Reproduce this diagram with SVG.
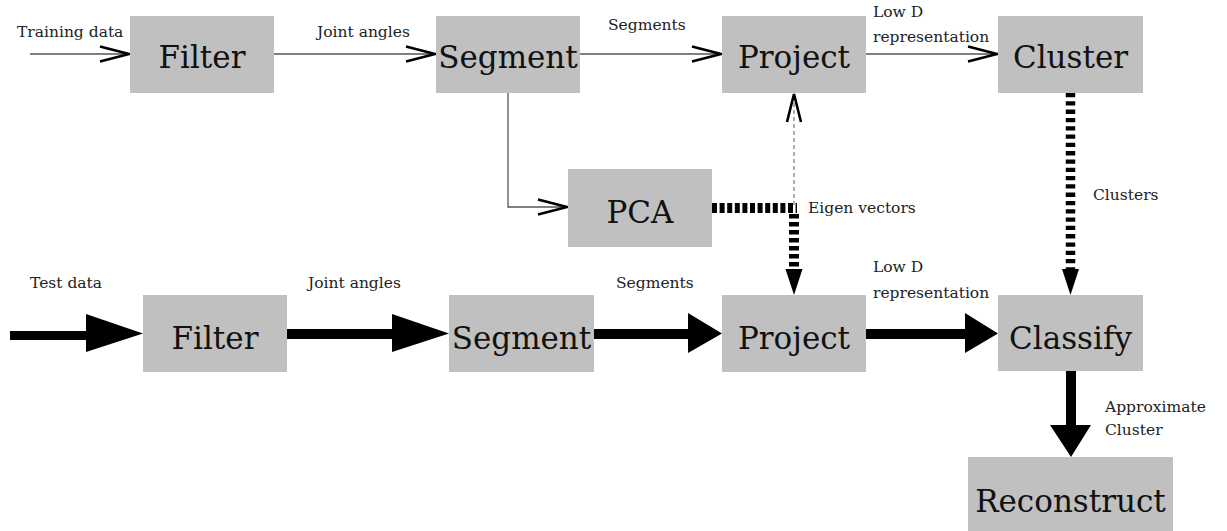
<svg xmlns="http://www.w3.org/2000/svg" width="1227" height="531" viewBox="0 0 1227 531">
<style>
.box{fill:#c0c0c0}
.lbl{font-family:"DejaVu Serif","Liberation Serif",serif;font-size:31px;fill:#111;text-anchor:middle}
.sm{font-family:"DejaVu Serif","Liberation Serif",serif;font-size:15.5px;fill:#222}
.thin{stroke:#000;stroke-width:1.2;fill:none}
.gray{stroke:#555;stroke-width:1.3;fill:none}
.chev{stroke:#000;stroke-width:2.6;fill:none;stroke-linejoin:miter}
.thick{fill:#000}
.dot{stroke:#000;fill:none}
</style>
<rect width="1227" height="531" fill="#fff"/>
<g id="connectors">
  <!-- training row -->
  <line class="thin" x1="30" y1="54" x2="129" y2="54"/>
  <polyline class="chev" points="100,46.5 129,54 100,61.5"/>
  <line class="thin" x1="274" y1="54" x2="435" y2="54"/>
  <polyline class="chev" points="406,46.5 435,54 406,61.5"/>
  <line class="thin" x1="580" y1="54" x2="721" y2="54"/>
  <polyline class="chev" points="692,46.5 721,54 692,61.5"/>
  <line class="thin" x1="866" y1="54" x2="997" y2="54"/>
  <polyline class="chev" points="968,46.5 997,54 968,61.5"/>
  <!-- segment to PCA -->
  <polyline class="gray" points="508,93 508,207 567,207"/>
  <polyline class="chev" points="538,199.5 567,207 538,214.5"/>
  <!-- eigen vectors -->
  <line x1="794" y1="205" x2="794" y2="96" stroke="#777" stroke-width="1.2" stroke-dasharray="4 3"/>
  <polyline class="chev" points="787,122 794,94 801,122"/>
  <line class="dot" x1="712" y1="208" x2="797" y2="208" stroke-width="10" stroke-dasharray="5 2.6"/>
  <line class="dot" x1="794" y1="214" x2="794" y2="269" stroke-width="10" stroke-dasharray="4.5 3.5"/>
  <polygon class="thick" points="785.5,269 802.5,269 794,295"/>
  <!-- clusters -->
  <line class="dot" x1="1070.5" y1="93" x2="1070.5" y2="269" stroke-width="9.5" stroke-dasharray="4.3 4"/>
  <polygon class="thick" points="1062,269 1079,269 1070.5,295"/>
  <!-- test row -->
  <rect class="thick" x="10" y="331" width="78" height="9"/>
  <polygon class="thick" points="86,314 143,333.5 86,352"/>
  <rect class="thick" x="287" y="329" width="107" height="10"/>
  <polygon class="thick" points="392,314 449,333.5 392,352"/>
  <rect class="thick" x="594" y="329" width="96" height="10"/>
  <polygon class="thick" points="688,313 722,333.5 688,353"/>
  <rect class="thick" x="866" y="329" width="101" height="10"/>
  <polygon class="thick" points="965,313 998,333.5 965,353"/>
  <rect class="thick" x="1066" y="371" width="10" height="56"/>
  <polygon class="thick" points="1050,425 1091,425 1071,457"/>
</g>
<g id="filter1"><rect class="box" x="130" y="16" width="144" height="77"/><text class="lbl" x="202" y="68">Filter</text></g>
<g id="segment1"><rect class="box" x="436" y="16" width="144" height="77"/><text class="lbl" x="508" y="68">Segment</text></g>
<g id="project1"><rect class="box" x="722" y="16" width="144" height="77"/><text class="lbl" x="794" y="68">Project</text></g>
<g id="cluster"><rect class="box" x="998" y="16" width="145" height="77"/><text class="lbl" x="1070.5" y="68">Cluster</text></g>
<g id="pca"><rect class="box" x="568" y="169" width="144" height="78"/><text class="lbl" x="640" y="222.5">PCA</text></g>
<g id="filter2"><rect class="box" x="143" y="295" width="144" height="77"/><text class="lbl" x="215" y="349">Filter</text></g>
<g id="segment2"><rect class="box" x="449" y="295" width="145" height="77"/><text class="lbl" x="521.5" y="349">Segment</text></g>
<g id="project2"><rect class="box" x="722" y="295" width="144" height="77"/><text class="lbl" x="794" y="349">Project</text></g>
<g id="classify"><rect class="box" x="998" y="295" width="145" height="76"/><text class="lbl" x="1070.5" y="349">Classify</text></g>
<g id="reconstruct"><rect class="box" x="968" y="457" width="205" height="74"/><text class="lbl" x="1070.5" y="512">Reconstruct</text></g>
<g id="labels">
  <text class="sm" x="17" y="37">Training data</text>
  <text class="sm" x="317" y="37">Joint angles</text>
  <text class="sm" x="608" y="30">Segments</text>
  <text class="sm" x="873" y="17">Low D</text>
  <text class="sm" x="873" y="42">representation</text>
  <text class="sm" x="1093" y="200">Clusters</text>
  <text class="sm" x="808" y="213">Eigen vectors</text>
  <text class="sm" x="30" y="288">Test data</text>
  <text class="sm" x="308" y="288">Joint angles</text>
  <text class="sm" x="616" y="288">Segments</text>
  <text class="sm" x="873" y="272">Low D</text>
  <text class="sm" x="873" y="298">representation</text>
  <text class="sm" x="1105" y="412">Approximate</text>
  <text class="sm" x="1105" y="435">Cluster</text>
</g>
</svg>
